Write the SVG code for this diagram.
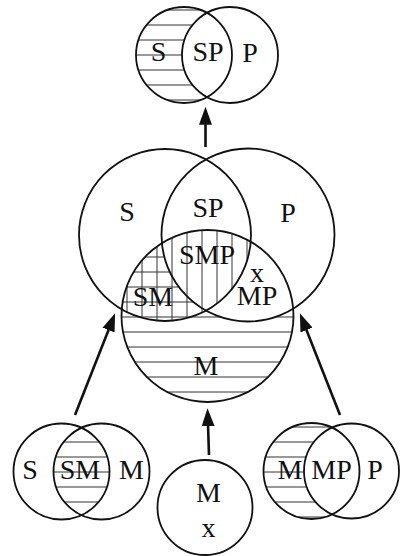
<svg xmlns="http://www.w3.org/2000/svg" width="402" height="556" viewBox="0 0 402 556">
<style>
.c{fill:none;stroke:#111;stroke-width:1.8}
.h{stroke:#333;stroke-width:1}
.t{font-family:"Liberation Serif","Times New Roman",serif;font-size:28px;fill:#111;text-anchor:middle}
.a{stroke:#111;stroke-width:2.6;fill:none}
</style>
<defs>
<marker id="ah" viewBox="0 0 18 13" refX="9" refY="6.5" markerWidth="18" markerHeight="13" markerUnits="userSpaceOnUse" orient="auto">
<path d="M0,0 L18,6.5 L0,13 z" fill="#111"/>
</marker>
<mask id="mTop"><circle cx="184" cy="55" r="48" fill="#fff"/><circle cx="230" cy="55" r="48" fill="#000"/></mask>
<mask id="mBig"><circle cx="207.5" cy="316" r="86" fill="#fff"/><circle cx="248" cy="235" r="86.5" fill="#000"/></mask>
<clipPath id="cBigS"><circle cx="165" cy="235" r="86"/></clipPath>
<clipPath id="cBigM"><circle cx="207.5" cy="316" r="86"/></clipPath>
<clipPath id="cBL1"><circle cx="61.5" cy="471.5" r="48"/></clipPath>
<clipPath id="cBL2"><circle cx="101.5" cy="471.5" r="48"/></clipPath>
<mask id="mBR"><circle cx="311.5" cy="471" r="48" fill="#fff"/><circle cx="351.5" cy="471" r="47.5" fill="#000"/></mask>
</defs>

<g id="conclusion">
<g mask="url(#mTop)" class="h">
<line x1="130" y1="10" x2="240" y2="10"/><line x1="130" y1="25" x2="240" y2="25"/><line x1="130" y1="40" x2="240" y2="40"/><line x1="130" y1="55" x2="240" y2="55"/><line x1="130" y1="70" x2="240" y2="70"/><line x1="130" y1="85" x2="240" y2="85"/><line x1="130" y1="100" x2="240" y2="100"/>
</g>
<circle class="c" cx="184" cy="55" r="48"/>
<circle class="c" cx="230" cy="55" r="48"/>
<text class="t" x="158.5" y="61">S</text>
<text class="t" x="208" y="61">SP</text>
<text class="t" x="250" y="62">P</text>
</g>

<g id="combined">
<g mask="url(#mBig)" class="h">
<line x1="115" y1="257" x2="300" y2="257"/><line x1="115" y1="272" x2="300" y2="272"/><line x1="115" y1="287" x2="300" y2="287"/><line x1="115" y1="302" x2="300" y2="302"/><line x1="115" y1="317" x2="300" y2="317"/><line x1="115" y1="332" x2="300" y2="332"/><line x1="115" y1="347" x2="300" y2="347"/><line x1="115" y1="362" x2="300" y2="362"/><line x1="115" y1="377" x2="300" y2="377"/><line x1="115" y1="392" x2="300" y2="392"/>
</g>
<g clip-path="url(#cBigS)"><g clip-path="url(#cBigM)" class="h">
<line x1="127" y1="225" x2="127" y2="330"/><line x1="142" y1="225" x2="142" y2="330"/><line x1="157" y1="225" x2="157" y2="330"/><line x1="172" y1="225" x2="172" y2="330"/><line x1="187" y1="225" x2="187" y2="330"/><line x1="202" y1="225" x2="202" y2="330"/><line x1="217" y1="225" x2="217" y2="330"/><line x1="232" y1="225" x2="232" y2="330"/><line x1="247" y1="225" x2="247" y2="330"/>
</g></g>
<circle class="c" cx="165" cy="235" r="86"/>
<circle class="c" cx="248" cy="235" r="86.5"/>
<circle class="c" cx="207.5" cy="316" r="86"/>
<text class="t" x="127" y="221">S</text>
<text class="t" x="208" y="217">SP</text>
<text class="t" x="288" y="222">P</text>
<text class="t" x="207" y="264">SMP</text>
<text class="t" x="257" y="281.5">x</text>
<text class="t" x="257" y="305">MP</text>
<text class="t" x="153" y="306">SM</text>
<text class="t" x="206" y="375">M</text>
</g>

<g id="premise-sm">
<g clip-path="url(#cBL1)"><g clip-path="url(#cBL2)" class="h">
<line x1="50" y1="442" x2="115" y2="442"/><line x1="50" y1="457" x2="115" y2="457"/><line x1="50" y1="472" x2="115" y2="472"/><line x1="50" y1="487" x2="115" y2="487"/><line x1="50" y1="502" x2="115" y2="502"/>
</g></g>
<circle class="c" cx="61.5" cy="471.5" r="48"/>
<circle class="c" cx="101.5" cy="471.5" r="48"/>
<text class="t" x="30" y="479">S</text>
<text class="t" x="80" y="479">SM</text>
<text class="t" x="131.5" y="479">M</text>
</g>

<g id="premise-m">
<circle class="c" cx="205" cy="507.5" r="47.5"/>
<text class="t" x="208.5" y="502">M</text>
<text class="t" x="208.5" y="537">x</text>
</g>

<g id="premise-mp">
<g mask="url(#mBR)" class="h">
<line x1="260" y1="427" x2="360" y2="427"/><line x1="260" y1="442" x2="360" y2="442"/><line x1="260" y1="457" x2="360" y2="457"/><line x1="260" y1="472" x2="360" y2="472"/><line x1="260" y1="487" x2="360" y2="487"/><line x1="260" y1="502" x2="360" y2="502"/><line x1="260" y1="517" x2="360" y2="517"/>
</g>
<circle class="c" cx="311.5" cy="471" r="48"/>
<circle class="c" cx="351.5" cy="471" r="47.5"/>
<text class="t" x="290" y="479">M</text>
<text class="t" x="331.5" y="479">MP</text>
<text class="t" x="375" y="479">P</text>
</g>

<g id="connectors">
<line class="a" x1="205.5" y1="147" x2="205.5" y2="115.7" marker-end="url(#ah)"/>
<line class="a" x1="75" y1="415" x2="111.8" y2="321.7" marker-end="url(#ah)"/>
<line class="a" x1="340" y1="415" x2="303.2" y2="321.7" marker-end="url(#ah)"/>
<line class="a" x1="209" y1="455" x2="207.8" y2="417.3" marker-end="url(#ah)"/>
</g>
</svg>
